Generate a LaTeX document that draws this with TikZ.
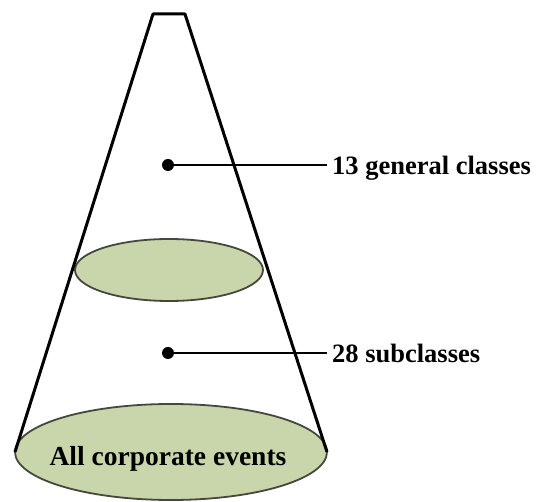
\documentclass[tikz,border=0pt]{standalone}
\usepackage{fontspec}
\setmainfont{Liberation Serif}
\definecolor{conefill}{RGB}{201,214,171}
\definecolor{rimline}{RGB}{70,72,62}
\begin{document}
\begin{tikzpicture}[x=1pt,y=-1pt,
  rim/.style={draw=rimline,line width=1.8pt,fill=conefill},
  side/.style={draw=black,line width=3pt,line join=round},
  dotnode/.style={circle,fill=black,inner sep=0pt,minimum size=12pt},
  lbl/.style={anchor=base west,inner sep=5pt,font=\bfseries\fontsize{26.5}{28}\selectfont},
  lead/.style={draw=black,line width=2.8pt}]
\useasboundingbox (0,0) rectangle (547,502);
% bottom ellipse
\draw[rim] (171,452) ellipse [x radius=156,y radius=48];
\node[anchor=base,inner sep=0pt,font=\bfseries\fontsize{27.5}{30}\selectfont] (base) at (168,466) {All corporate events};
% middle ellipse
\draw[rim] (169,270) ellipse [x radius=94,y radius=31];
% cone sides
\coordinate (tl) at (153,14);
\coordinate (tr) at (185,14);
\coordinate (bl) at (15,452);
\coordinate (br) at (327,452);
\draw[side] (bl) -- (tl) -- (tr) -- (br);
% labels
\node[dotnode] (d1) at (168,165) {};
\node[lbl] (l1) at (327,175) {13 general classes};
\draw[lead] (d1.center) -- (d1 -| l1.west);
\node[dotnode] (d2) at (168,353) {};
\node[lbl] (l2) at (327,363) {28 subclasses};
\draw[lead] (d2.center) -- (d2 -| l2.west);
\end{tikzpicture}
\end{document}
